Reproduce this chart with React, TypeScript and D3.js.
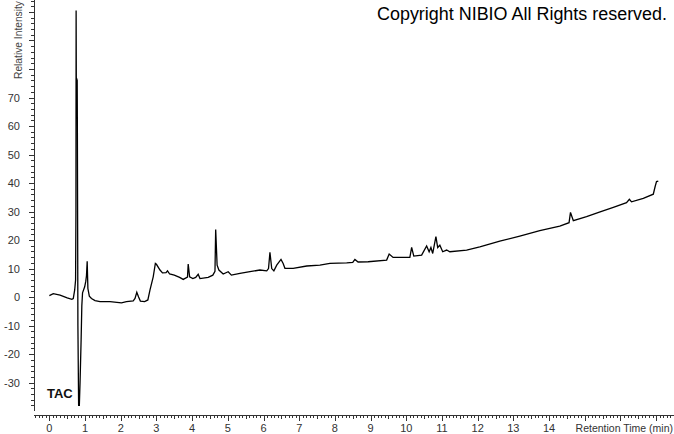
import React from "react";
import * as d3 from "d3";

const times = [
  0.0, 0.11, 0.3, 0.5, 0.63, 0.67, 0.71, 0.735, 0.745, 0.75, 0.755, 0.78, 0.785, 0.8, 0.82, 0.84, 0.86, 0.89, 0.91,
  0.93, 0.99, 1.02, 1.04, 1.06, 1.08, 1.12, 1.18, 1.28, 1.42, 1.7, 2.02, 2.16, 2.35, 2.4, 2.45, 2.5, 2.55, 2.67,
  2.76, 2.82, 2.91, 2.97, 3.0, 3.1, 3.17, 3.27, 3.31, 3.37, 3.5, 3.65, 3.75, 3.87, 3.89, 3.93, 4.02, 4.1, 4.17,
  4.22, 4.45, 4.58, 4.64, 4.66, 4.7, 4.75, 4.87, 5.01, 5.1, 5.34, 5.62, 5.9, 6.09, 6.14, 6.18, 6.23, 6.29, 6.37,
  6.49, 6.55, 6.6, 6.83, 7.21, 7.58, 7.86, 8.33, 8.5, 8.56, 8.65, 8.93, 9.45, 9.52, 9.63, 10.1, 10.15, 10.21,
  10.43, 10.57, 10.64, 10.69, 10.74, 10.83, 10.88, 10.94, 11.02, 11.13, 11.22, 11.69, 12.06, 12.62, 13.18,
  13.74, 14.3, 14.56, 14.6, 14.68, 15.05, 15.43, 15.8, 16.17, 16.25, 16.31, 16.64, 16.92, 16.97, 17.01, 17.06,
];
const intensity = [
  0.5, 1.2, 0.7, -0.3, -0.8, -0.5, 2.5, 6, 30, 100.5, 77, 76, 60, -10, -38, -38, -30, -15, -3,
  1.5, 3.6, 5.5, 7.5, 12.6, 3, 0.3, -0.5, -1.2, -1.6, -1.6, -2.0, -1.6, -1.3, -0.5, 1.7, 0, -1.4, -1.6,
  -1.0, 2.5, 7.1, 11.8, 11.5, 9.5, 8.5, 8.6, 9.2, 8.1, 7.7, 6.9, 6.2, 7.0, 11.6, 7.1, 6.5, 6.9, 8.0,
  6.5, 6.9, 7.7, 9, 23.7, 11.2, 9.5, 8.1, 8.9, 7.7, 8.3, 8.9, 9.5, 9.2, 10, 15.7, 10, 9.2, 11.2,
  13.2, 11.8, 10.1, 10.1, 10.9, 11.2, 11.8, 12.0, 12.2, 13.2, 12.3, 12.4, 13.0, 15.1, 13.9, 13.9, 17.4, 14.4,
  14.7, 17.9, 15.9, 17.4, 15.3, 21.2, 17.4, 18.2, 15.9, 16.5, 15.9, 16.5, 17.6, 19.6, 21.4,
  23.3, 24.9, 26.1, 29.7, 26.8, 28.2, 29.9, 31.5, 33.1, 34.3, 33.4, 34.6, 36.1, 38.7, 40.5, 40.7,
];

const yTickLabels = [-30, -20, -10, 0, 10, 20, 30, 40, 50, 60, 70];
const xTickLabels = [0, 1, 2, 3, 4, 5, 6, 7, 8, 9, 10, 11, 12, 13, 14];

const W = 674;
const H = 434;

export default function App() {
  const x = d3.scaleLinear().domain([-0.43, 17.5]).range([34, 674]);
  const y = d3.scaleLinear().domain([-39.6, 104.2]).range([410, 0]);
  const data = times.map((t, i) => [t, intensity[i]] as [number, number]);
  const line = d3
    .line<[number, number]>()
    .x((d) => x(d[0]))
    .y((d) => y(d[1]));

  const axisY = 34;
  const xAxisY = 415;

  const yMinor = d3.range(-38, 105, 2).filter((v) => v % 10 !== 0);
  const yMajor = d3.range(-30, 101, 10);
  const xMinor = d3.range(-4, 175, 1).map((v) => v / 10).filter((v) => Math.round(v * 10) % 10 !== 0);
  const xMajor = d3.range(0, 18, 1);

  const font = "'Liberation Sans', Arial, sans-serif";

  return (
    <svg width={W} height={H} style={{ position: "absolute", left: 0, top: 0, background: "#fff" }}>
      <rect width={W} height={H} fill="#fff" />
      {/* y axis */}
      <line x1={axisY + 0.5} x2={axisY + 0.5} y1={0} y2={411} stroke="#333" />
      {yMinor.map((v) => (
        <line key={"ym" + v} x1={axisY - 3} x2={axisY} y1={Math.round(y(v)) + 0.5} y2={Math.round(y(v)) + 0.5} stroke="#333" />
      ))}
      {yMajor.map((v) => (
        <line key={"yM" + v} x1={axisY - 5} x2={axisY} y1={Math.round(y(v)) + 0.5} y2={Math.round(y(v)) + 0.5} stroke="#333" />
      ))}
      {yTickLabels.map((v) => (
        <text key={"yl" + v} x={20} y={y(v) + 4} textAnchor="end" fontFamily={font} fontSize={11} fill="#333">
          {v}
        </text>
      ))}
      <text
        transform={`translate(22,79) rotate(-90)`}
        fontFamily={font}
        fontSize={10.5}
        textLength={78}
        lengthAdjust="spacingAndGlyphs"
        fill="#444"
      >
        Relative Intensity
      </text>

      {/* x axis */}
      <line x1={axisY} x2={W} y1={xAxisY + 0.5} y2={xAxisY + 0.5} stroke="#333" />
      {xMinor.map((v) => (
        <line
          key={"xm" + v}
          x1={Math.round(x(v)) + 0.5}
          x2={Math.round(x(v)) + 0.5}
          y1={xAxisY}
          y2={xAxisY + (Math.abs((v * 10) % 10) === 5 ? 4 : 3)}
          stroke="#333"
        />
      ))}
      {xMajor.map((v) => (
        <line key={"xM" + v} x1={Math.round(x(v)) + 0.5} x2={Math.round(x(v)) + 0.5} y1={xAxisY} y2={xAxisY + 6} stroke="#333" />
      ))}
      {xTickLabels.map((v) => (
        <text key={"xl" + v} x={x(v)} y={432} textAnchor="middle" fontFamily={font} fontSize={11} fill="#333">
          {v}
        </text>
      ))}
      <text x={673} y={432} textAnchor="end" fontFamily={font} fontSize={10.5} fill="#333">
        Retention Time (min)
      </text>

      {/* trace */}
      <path d={line(data) || ""} fill="none" stroke="#000" strokeWidth={1.3} strokeLinejoin="miter" />

      <text x={47} y={398} fontFamily={font} fontSize={13} fontWeight="bold" fill="#111">
        TAC
      </text>
      <text x={377} y={20} fontFamily={font} fontSize={17.5} textLength={290} lengthAdjust="spacingAndGlyphs" fill="#000">
        Copyright NIBIO All Rights reserved.
      </text>
    </svg>
  );
}
